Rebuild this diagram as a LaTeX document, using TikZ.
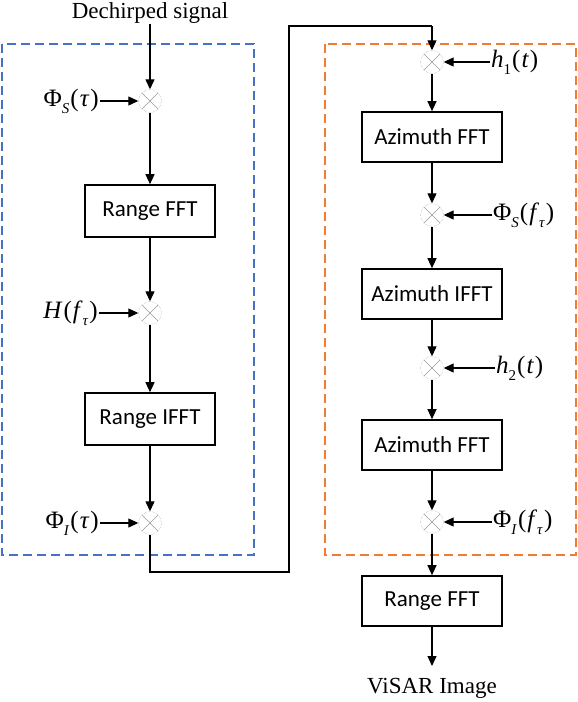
\documentclass[tikz,border=0pt]{standalone}
\usepackage{fontspec}
\setmainfont{Liberation Serif}
\newfontfamily\boxfont{Carlito}
\usetikzlibrary{arrows.meta}
\newcommand{\mysub}[1]{\raisebox{-0.28em}{\fontsize{15}{15}\selectfont #1}}
\newcommand{\lp}{\kern1pt(\kern1pt}
\newcommand{\rp}{\kern1pt)}
\begin{document}
\begin{tikzpicture}[x=1pt,y=-1pt,
  blk/.style={draw,line width=1.6pt,minimum width=140pt,minimum height=50pt,font=\boxfont\fontsize{23}{25}\selectfont,inner sep=0pt},
  mul/.style={circle,draw=gray!80,densely dotted,minimum size=23pt,inner sep=0pt,
    path picture={\draw[gray!80,solid,line width=0.5pt,shift={(path picture bounding box.center)}] (-8pt,-8pt) -- (8pt,8pt) (-8pt,8pt) -- (8pt,-8pt);}},
  lbl/.style={font=\fontsize{23}{25}\selectfont,inner sep=1pt},
  mlbl/.style={font=\fontsize{25}{27}\selectfont,inner sep=1pt},
  conn/.style={line width=1.2pt,-{Triangle[length=10pt,width=9pt]}},
  wire/.style={line width=1.2pt}]
\useasboundingbox (0,0) rectangle (578,702);
% dashed boxes
\draw[dash pattern=on 9pt off 5pt,line width=1.3pt,color={rgb,255:red,68;green,114;blue,196}] (2,44) rectangle (254,555);
\draw[dash pattern=on 9pt off 5pt,line width=1.3pt,color={rgb,255:red,237;green,125;blue,49}] (325,44) rectangle (576,555);
% left column
\node[lbl,anchor=base,inner sep=0pt] (ds) at (150,18.5) {Dechirped signal};
\node[mul] (m1) at (150,101) {};
\node[blk,minimum width=130pt,minimum height=52pt] (rfft) at (150,211) {Range FFT};
\node[mul] (m2) at (150,313) {};
\node[blk,minimum width=130pt,minimum height=52pt] (rifft) at (150,419) {Range IFFT};
\node[mul] (m3) at (150,523) {};
\node[mlbl,anchor=east] (l1) at (100,101) {Φ\mysub{\textit{S}}\lp\textit{τ}\rp};
\node[mlbl,anchor=east] (l2) at (99,313) {\textit{H}\lp\textit{f}\mysub{\textit{τ}}\rp};
\node[mlbl,anchor=east] (l3) at (100,523) {Φ\mysub{\textit{I}}\lp\textit{τ}\rp};
% right column
\node[mul] (n1) at (432,62) {};
\node[blk] (afft1) at (432,137) {Azimuth FFT};
\node[mul] (n2) at (432,215) {};
\node[blk] (aifft) at (432,294) {Azimuth IFFT};
\node[mul] (n3) at (432,368) {};
\node[blk] (afft2) at (432,445) {Azimuth FFT};
\node[mul] (n4) at (432,522) {};
\node[blk] (rfft2) at (432,601) {Range FFT};
\node[lbl] (out) at (432,688) {ViSAR Image};
\coordinate (outend) at (432,666);
\node[mlbl,anchor=west] (r1) at (490,62) {\textit{h}\mysub{1}\lp\textit{t}\rp};
\node[mlbl,anchor=west] (r2) at (492,215) {Φ\mysub{\textit{S}}\lp\textit{f}\mysub{\textit{τ}}\rp};
\node[mlbl,anchor=west] (r3) at (495,368) {\textit{h}\mysub{2}\lp\textit{t}\rp};
\node[mlbl,anchor=west] (r4) at (492,522) {Φ\mysub{\textit{I}}\lp\textit{f}\mysub{\textit{τ}}\rp};
% connectors left
\draw[conn] (ds.south) -- (m1);
\draw[conn] (m1) -- (rfft);
\draw[conn] (rfft) -- (m2);
\draw[conn] (m2) -- (rifft);
\draw[conn] (rifft) -- (m3);
\draw[conn] (l1) -- (m1);
\draw[conn] (l2) -- (m2);
\draw[conn] (l3) -- (m3);
% link
\coordinate (c1) at (150,572);
\coordinate (c2) at (289,572);
\coordinate (c3) at (289,26);
\coordinate (c4) at (432,26);
\draw[wire] (m3) -- (c1) -- (c2) -- (c3) -- (c4);
\draw[conn] (c4) -- (n1);
% connectors right
\draw[conn] (n1) -- (afft1);
\draw[conn] (afft1) -- (n2);
\draw[conn] (n2) -- (aifft);
\draw[conn] (aifft) -- (n3);
\draw[conn] (n3) -- (afft2);
\draw[conn] (afft2) -- (n4);
\draw[conn] (n4) -- (rfft2);
\draw[conn] (rfft2) -- (outend);
\draw[conn] (r1) -- (n1);
\draw[conn] (r2) -- (n2);
\draw[conn] (r3) -- (n3);
\draw[conn] (r4) -- (n4);
\end{tikzpicture}
\end{document}
